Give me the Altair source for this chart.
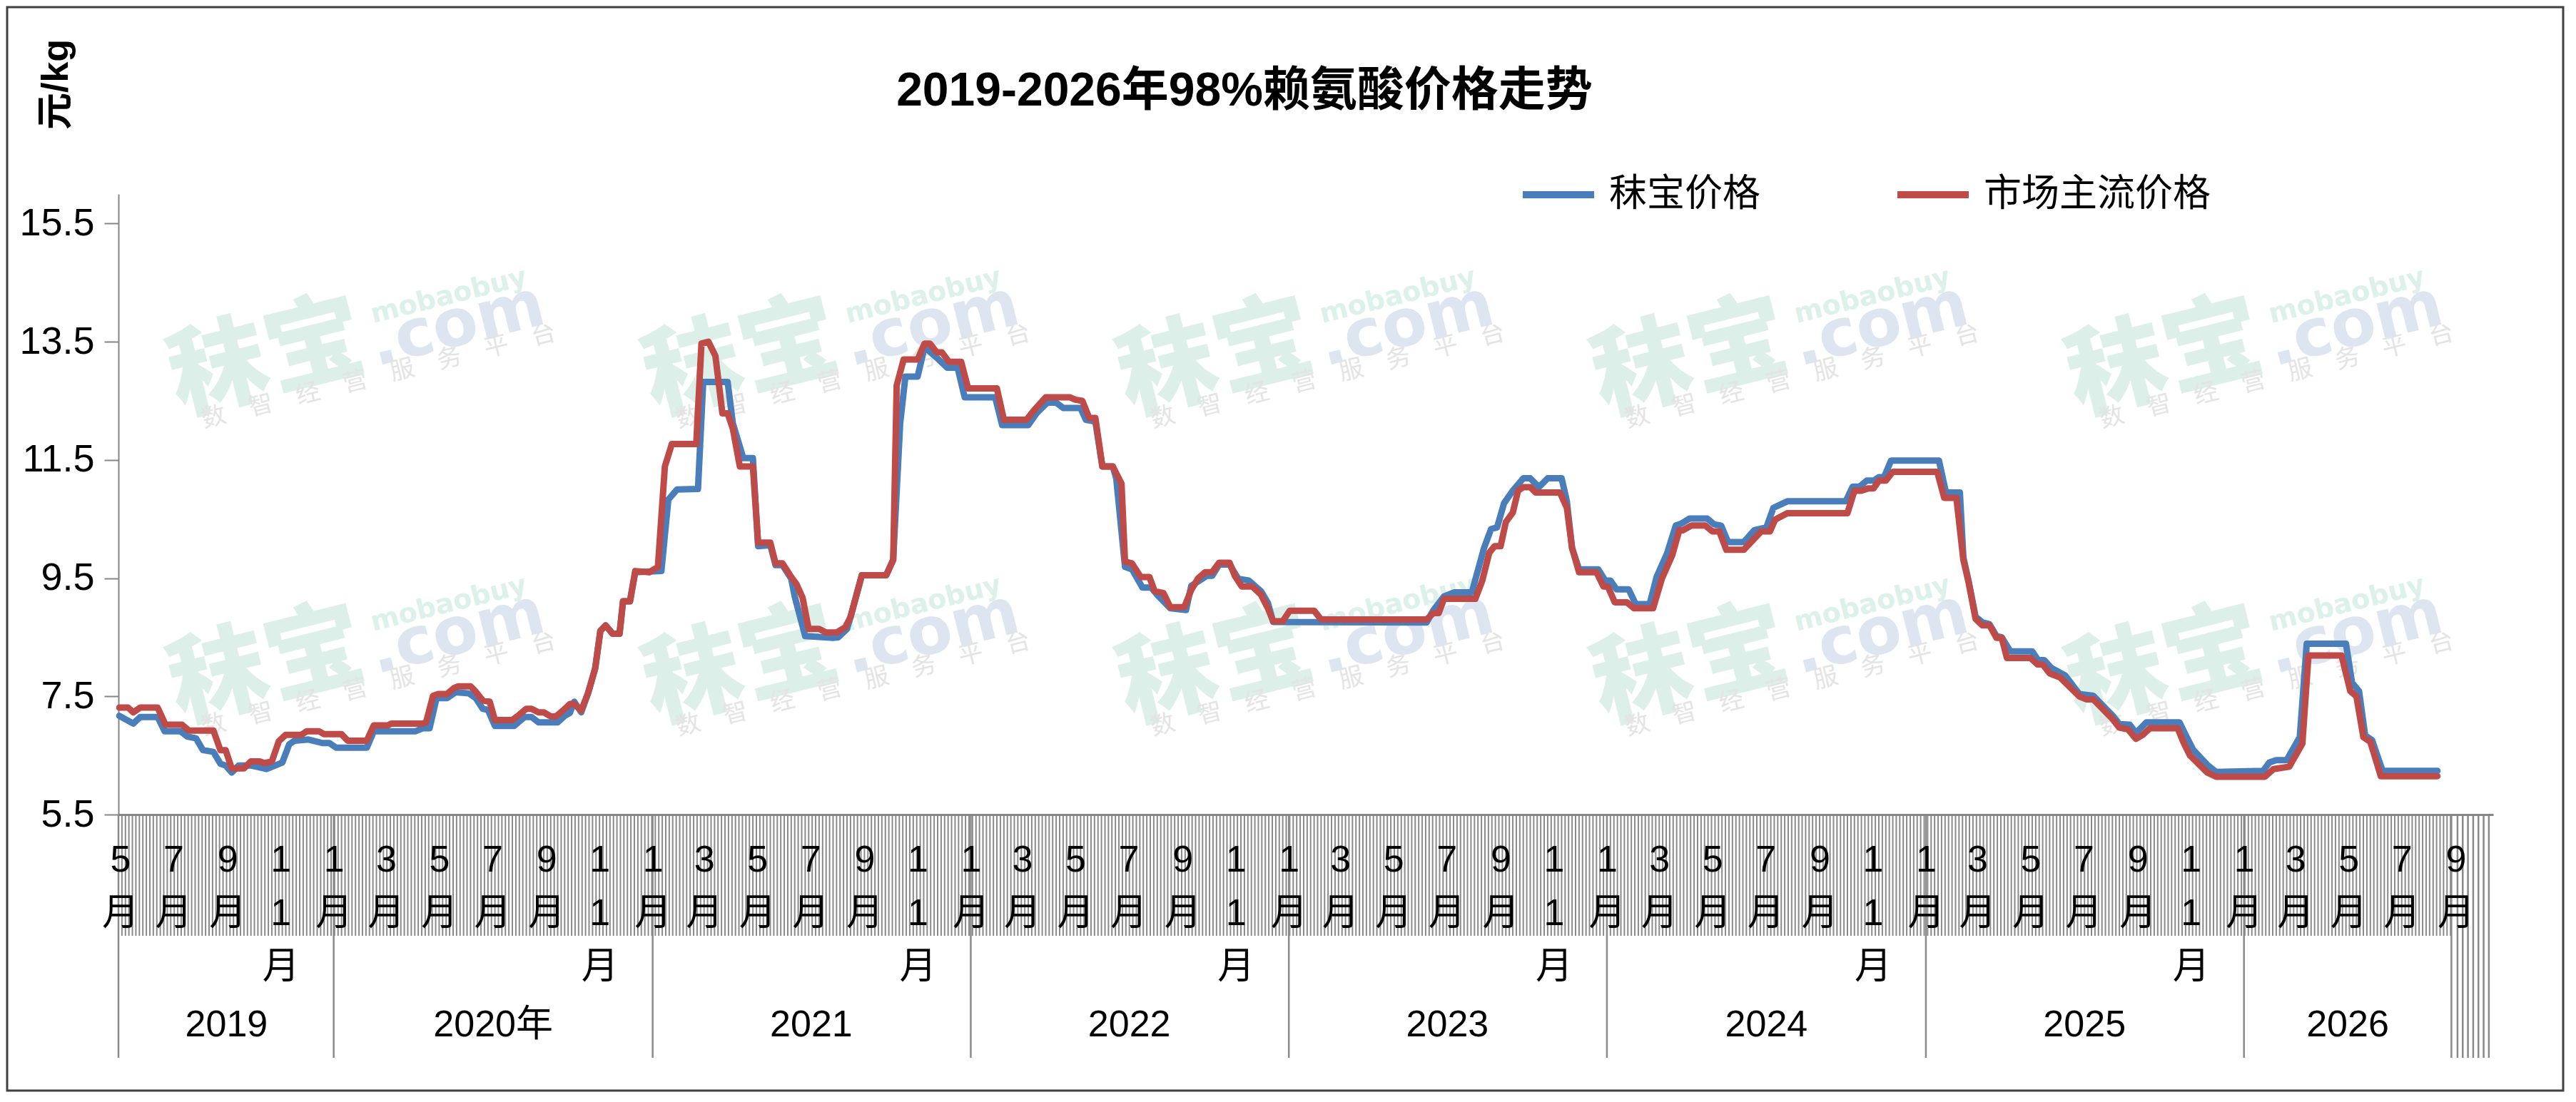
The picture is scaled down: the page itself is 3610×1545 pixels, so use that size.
import altair as alt
import pandas as pd

TITLE = "2019-2026年98%赖氨酸价格走势"
SERIES = ["秣宝价格", "市场主流价格"]
COLORS = ["#4a7ebb", "#be4b48"]
FONT = "'Liberation Sans', 'Noto Sans CJK SC', sans-serif"
CJK = "'Noto Sans CJK SC', sans-serif"

blue_dates = [
    "2019-04-30", "2019-05-16", "2019-05-24", "2019-06-13", "2019-06-21", "2019-07-09", "2019-07-17",
    "2019-07-27", "2019-08-04", "2019-08-16", "2019-08-24", "2019-08-30", "2019-09-06", "2019-09-14",
    "2019-09-28", "2019-10-16", "2019-11-03", "2019-11-11", "2019-11-17", "2019-12-03", "2019-12-19",
    "2019-12-27", "2020-01-04", "2020-02-08", "2020-02-16", "2020-04-04", "2020-04-12", "2020-04-20",
    "2020-04-28", "2020-05-10", "2020-05-20", "2020-06-04", "2020-06-12", "2020-06-20", "2020-06-26",
    "2020-07-04", "2020-07-26", "2020-08-07", "2020-08-15", "2020-08-23", "2020-09-14", "2020-09-22",
    "2020-09-28", "2020-10-03", "2020-10-11", "2020-10-19", "2020-10-27", "2020-11-02", "2020-11-08",
    "2020-11-16", "2020-11-24", "2020-11-28", "2020-12-06", "2020-12-12", "2021-01-11", "2021-01-19",
    "2021-01-29", "2021-02-22", "2021-02-28", "2021-03-28", "2021-04-03", "2021-04-15", "2021-04-26",
    "2021-05-02", "2021-05-16", "2021-05-22", "2021-05-30", "2021-06-09", "2021-06-13", "2021-06-25",
    "2021-07-27", "2021-08-02", "2021-08-12", "2021-08-16", "2021-08-29", "2021-09-26", "2021-10-04",
    "2021-10-12", "2021-10-18", "2021-11-01", "2021-11-09", "2021-11-23", "2021-12-05", "2021-12-17",
    "2021-12-25", "2022-01-29", "2022-02-06", "2022-03-08", "2022-03-18", "2022-03-30", "2022-04-09",
    "2022-04-17", "2022-05-07", "2022-05-13", "2022-05-24", "2022-06-01", "2022-06-13", "2022-06-17",
    "2022-06-27", "2022-07-05", "2022-07-17", "2022-07-27", "2022-08-04", "2022-08-18", "2022-09-05",
    "2022-09-11", "2022-09-29", "2022-10-05", "2022-10-13", "2022-10-25", "2022-11-04", "2022-11-16",
    "2022-11-30", "2022-12-08", "2022-12-14", "2023-06-08", "2023-06-16", "2023-06-28", "2023-07-10",
    "2023-07-30", "2023-08-13", "2023-08-21", "2023-08-28", "2023-09-05", "2023-09-15", "2023-09-27",
    "2023-10-05", "2023-10-15", "2023-10-25", "2023-11-10", "2023-11-16", "2023-11-22", "2023-11-30",
    "2023-12-22", "2023-12-30", "2024-01-05", "2024-01-12", "2024-01-26", "2024-02-03", "2024-02-19",
    "2024-02-27", "2024-03-10", "2024-03-20", "2024-03-26", "2024-04-05", "2024-04-25", "2024-05-03",
    "2024-05-11", "2024-05-19", "2024-06-06", "2024-06-18", "2024-07-02", "2024-07-10", "2024-07-26",
    "2024-10-01", "2024-10-09", "2024-10-17", "2024-10-25", "2024-11-02", "2024-11-08", "2024-11-14",
    "2024-11-22", "2025-01-16", "2025-01-24", "2025-02-09", "2025-02-13", "2025-02-19", "2025-02-27",
    "2025-03-07", "2025-03-15", "2025-03-23", "2025-03-29", "2025-04-08", "2025-05-03", "2025-05-09",
    "2025-05-17", "2025-05-25", "2025-06-10", "2025-06-26", "2025-07-12", "2025-08-03", "2025-08-11",
    "2025-08-23", "2025-08-30", "2025-09-11", "2025-10-19", "2025-10-27", "2025-11-04", "2025-11-20",
    "2025-11-30", "2026-01-23", "2026-01-30", "2026-02-07", "2026-02-19", "2026-03-06", "2026-03-14",
    "2026-04-28", "2026-05-05", "2026-05-13", "2026-05-20", "2026-05-28", "2026-06-09", "2026-08-11",
]
blue_vals = [
    7.17, 7.04, 7.15, 7.15, 6.91, 6.91, 6.82,
    6.79, 6.59, 6.56, 6.36, 6.33, 6.21, 6.33,
    6.33, 6.27, 6.38, 6.69, 6.75, 6.77, 6.71,
    6.71, 6.63, 6.63, 6.91, 6.91, 6.96, 6.96,
    7.47, 7.47, 7.57, 7.55, 7.47, 7.29, 7.27,
    7.00, 7.00, 7.15, 7.15, 7.06, 7.06, 7.17,
    7.22, 7.41, 7.23, 7.56, 7.97, 8.61, 8.70,
    8.56, 8.56, 9.11, 9.11, 9.60, 9.62, 10.83,
    11.00, 11.01, 12.82, 12.82, 12.12, 11.53, 11.53,
    10.04, 10.06, 9.72, 9.72, 9.49, 9.19, 8.52,
    8.49, 8.50, 8.64, 8.84, 9.55, 9.55, 9.81,
    12.12, 12.91, 12.91, 13.41, 13.23, 13.06, 13.06,
    12.56, 12.56, 12.09, 12.09, 12.30, 12.47, 12.47,
    12.38, 12.38, 12.18, 12.15, 11.39, 11.39, 11.18,
    9.69, 9.65, 9.34, 9.34, 9.20, 8.99, 8.96,
    9.37, 9.54, 9.54, 9.73, 9.73, 9.49, 9.46,
    9.28, 9.08, 8.76, 8.75, 8.96, 9.19, 9.26,
    9.26, 10.01, 10.33, 10.36, 10.77, 10.98, 11.19,
    11.19, 11.04, 11.19, 11.19, 10.80, 10.01, 9.65,
    9.65, 9.46, 9.46, 9.31, 9.31, 9.06, 9.06,
    9.52, 9.92, 10.39, 10.42, 10.51, 10.51, 10.41,
    10.39, 10.11, 10.11, 10.31, 10.36, 10.69, 10.80,
    10.80, 11.05, 11.05, 11.15, 11.15, 11.21, 11.21,
    11.49, 11.49, 10.95, 10.95, 9.85, 9.45, 8.85,
    8.75, 8.72, 8.52, 8.50, 8.26, 8.26, 8.13,
    8.11, 7.98, 7.85, 7.54, 7.51, 7.18, 7.03,
    7.02, 6.88, 7.06, 7.06, 6.82, 6.59, 6.34,
    6.22, 6.24, 6.38, 6.42, 6.42, 6.81, 8.39,
    8.39, 7.73, 7.59, 6.84, 6.76, 6.24, 6.24,
]

red_dates = [
    "2019-04-30", "2019-05-10", "2019-05-16", "2019-05-24", "2019-06-13", "2019-06-22", "2019-07-11",
    "2019-07-19", "2019-08-16", "2019-08-24", "2019-08-30", "2019-09-06", "2019-09-20", "2019-09-28",
    "2019-10-08", "2019-10-14", "2019-10-22", "2019-10-30", "2019-11-07", "2019-11-25", "2019-12-01",
    "2019-12-15", "2019-12-21", "2020-01-10", "2020-01-17", "2020-02-08", "2020-02-16", "2020-03-03",
    "2020-03-07", "2020-04-12", "2020-04-16", "2020-04-24", "2020-04-30", "2020-05-10", "2020-05-18",
    "2020-05-23", "2020-06-06", "2020-06-12", "2020-06-20", "2020-06-28", "2020-07-04", "2020-07-24",
    "2020-08-01", "2020-08-09", "2020-08-15", "2020-08-23", "2020-08-29", "2020-09-06", "2020-09-12",
    "2020-09-20", "2020-09-28", "2020-10-03", "2020-10-11", "2020-10-19", "2020-10-27", "2020-11-02",
    "2020-11-08", "2020-11-16", "2020-11-24", "2020-11-28", "2020-12-06", "2020-12-12", "2020-12-28",
    "2021-01-07", "2021-01-15", "2021-01-23", "2021-02-20", "2021-02-26", "2021-03-06", "2021-03-14",
    "2021-03-22", "2021-03-28", "2021-04-03", "2021-04-11", "2021-04-26", "2021-05-02", "2021-05-16",
    "2021-05-22", "2021-05-30", "2021-06-09", "2021-06-15", "2021-06-22", "2021-06-29", "2021-07-11",
    "2021-07-19", "2021-07-31", "2021-08-10", "2021-08-16", "2021-08-29", "2021-09-26", "2021-10-04",
    "2021-10-08", "2021-10-16", "2021-11-01", "2021-11-09", "2021-11-15", "2021-11-23", "2021-11-29",
    "2021-12-07", "2021-12-21", "2021-12-29", "2022-01-31", "2022-02-08", "2022-03-06", "2022-03-14",
    "2022-03-28", "2022-04-25", "2022-05-01", "2022-05-09", "2022-05-17", "2022-05-24", "2022-06-01",
    "2022-06-13", "2022-06-23", "2022-06-27", "2022-07-05", "2022-07-15", "2022-07-25", "2022-07-31",
    "2022-08-10", "2022-08-18", "2022-09-03", "2022-09-11", "2022-09-19", "2022-09-27", "2022-10-05",
    "2022-10-13", "2022-10-25", "2022-10-31", "2022-11-08", "2022-11-20", "2022-11-30", "2022-12-08",
    "2022-12-14", "2022-12-25", "2023-01-02", "2023-01-30", "2023-02-07", "2023-06-08", "2023-06-16",
    "2023-06-22", "2023-06-28", "2023-08-03", "2023-08-11", "2023-08-19", "2023-08-25", "2023-09-01",
    "2023-09-07", "2023-09-15", "2023-09-21", "2023-09-27", "2023-10-05", "2023-10-11", "2023-11-08",
    "2023-11-16", "2023-11-22", "2023-11-30", "2023-12-20", "2023-12-28", "2024-01-02", "2024-01-10",
    "2024-01-24", "2024-02-01", "2024-02-23", "2024-03-04", "2024-03-16", "2024-03-24", "2024-03-28",
    "2024-04-07", "2024-04-23", "2024-05-01", "2024-05-09", "2024-05-17", "2024-06-06", "2024-06-26",
    "2024-07-06", "2024-07-12", "2024-07-26", "2024-10-03", "2024-10-11", "2024-10-19", "2024-10-27",
    "2024-11-02", "2024-11-08", "2024-11-16", "2024-11-24", "2025-01-14", "2025-01-22", "2025-02-05",
    "2025-02-13", "2025-02-19", "2025-02-27", "2025-03-07", "2025-03-15", "2025-03-23", "2025-03-29",
    "2025-04-04", "2025-05-01", "2025-05-09", "2025-05-15", "2025-05-23", "2025-06-04", "2025-06-26",
    "2025-07-04", "2025-07-12", "2025-08-03", "2025-08-11", "2025-08-21", "2025-08-30", "2025-09-07",
    "2025-09-15", "2025-10-17", "2025-10-23", "2025-10-31", "2025-11-20", "2025-11-30", "2026-01-25",
    "2026-02-04", "2026-02-22", "2026-03-09", "2026-03-16", "2026-04-23", "2026-05-03", "2026-05-10",
    "2026-05-18", "2026-05-26", "2026-06-07", "2026-08-11",
]
red_vals = [
    7.31, 7.31, 7.23, 7.31, 7.31, 7.02, 7.02,
    6.92, 6.92, 6.59, 6.59, 6.28, 6.28, 6.40,
    6.40, 6.37, 6.40, 6.74, 6.85, 6.85, 6.91,
    6.91, 6.86, 6.86, 6.75, 6.75, 7.01, 7.01,
    7.04, 7.04, 7.06, 7.51, 7.54, 7.54, 7.64,
    7.67, 7.67, 7.58, 7.43, 7.41, 7.10, 7.10,
    7.19, 7.29, 7.29, 7.23, 7.23, 7.16, 7.16,
    7.26, 7.37, 7.37, 7.26, 7.56, 7.97, 8.61,
    8.70, 8.56, 8.56, 9.11, 9.11, 9.62, 9.60,
    9.69, 11.39, 11.77, 11.77, 13.47, 13.50, 13.26,
    12.29, 12.29, 12.03, 11.39, 11.39, 10.10, 10.10,
    9.75, 9.75, 9.52, 9.40, 9.17, 8.64, 8.64,
    8.58, 8.58, 8.67, 8.84, 9.55, 9.55, 9.81,
    12.76, 13.20, 13.20, 13.47, 13.47, 13.32, 13.32,
    13.16, 13.16, 12.71, 12.71, 12.18, 12.18, 12.33,
    12.56, 12.56, 12.52, 12.50, 12.21, 12.21, 11.39,
    11.39, 11.10, 9.78, 9.75, 9.52, 9.52, 9.28,
    9.25, 9.01, 9.01, 9.30, 9.50, 9.60, 9.60,
    9.76, 9.76, 9.54, 9.36, 9.36, 9.22, 8.99,
    8.77, 8.77, 8.95, 8.95, 8.80, 8.80, 8.91,
    8.91, 9.15, 9.15, 9.46, 9.93, 10.04, 10.04,
    10.45, 10.61, 10.98, 11.04, 11.04, 10.95, 10.95,
    10.69, 10.01, 9.60, 9.60, 9.36, 9.36, 9.09,
    9.09, 8.99, 8.99, 9.49, 9.89, 10.31, 10.31,
    10.39, 10.39, 10.29, 10.29, 9.98, 9.98, 10.29,
    10.29, 10.49, 10.60, 10.60, 10.98, 10.98, 11.02,
    11.02, 11.15, 11.15, 11.30, 11.30, 10.86, 10.86,
    9.81, 9.43, 8.81, 8.70, 8.70, 8.49, 8.49,
    8.15, 8.15, 8.04, 8.04, 7.89, 7.82, 7.50,
    7.45, 7.45, 7.12, 6.97, 6.94, 6.78, 6.85,
    6.96, 6.96, 6.74, 6.50, 6.21, 6.14, 6.14,
    6.27, 6.31, 6.70, 8.19, 8.19, 7.59, 7.50,
    6.81, 6.73, 6.15, 6.15,
]

y_ticks = [5.5, 7.5, 9.5, 11.5, 13.5, 15.5]
month_ticks = [f"{y}-{m:02d}-01" for y in range(2019, 2027) for m in (1, 3, 5, 7, 9, 11)
               if "2019-05-01" <= f"{y}-{m:02d}-01" <= "2026-09-01"]
year_labels = ["2019", "2020年", "2021", "2022", "2023", "2024", "2025", "2026"]
year_centers = ["2019-08-31", "2020-07-02", "2021-07-02", "2022-07-02", "2023-07-02",
                "2024-07-02", "2025-07-02", "2026-04-30"]
year_bounds = ["2019-04-29", "2020-01-01", "2021-01-01", "2022-01-01", "2023-01-01",
               "2024-01-01", "2025-01-01", "2026-01-01", "2026-08-27"]

W, H = 3328, 870


def ms(s):
    return int(pd.Timestamp(s).value // 10**6)


x_scale = alt.Scale(type="utc", domain=[ms("2019-04-29"), ms("2026-10-14")])
x_axis = alt.Axis(
    values=[ms(s) for s in month_ticks],
    labelExpr="utcmonth(datum.value) == 10 ? ['1', '1', '月'] : [toString(utcmonth(datum.value) + 1), '月']",
    labelLineHeight=75, labelFontSize=52, labelFont=FONT, labelColor="#000000",
    labelAngle=0, labelAlign="center", labelBaseline="top", labelPadding=38,
    labelOverlap=False, labelFlush=False, labelBound=False,
    ticks=False, tickSize=0, grid=False, domain=True, domainColor="#868686",
    domainWidth=3, title=None, zindex=1,
)
y_scale = alt.Scale(domain=[5.5, 16.0], nice=False, zero=False)
y_axis = alt.Axis(
    values=y_ticks, format=".1f", labelFontSize=54, labelFont=FONT, labelColor="#000000",
    labelPadding=14, tickSize=20, tickWidth=2, tickColor="#868686",
    domainColor="#868686", domainWidth=2, grid=False,
    title="元/kg", titleAngle=270, titleX=-88, titleY=-154, titleFontSize=52,
    titleFont=FONT, titleFontWeight="bold", titleColor="#000000",
    titleAlign="center", titleBaseline="middle",
)


def X():
    return alt.X("date:T", scale=x_scale, axis=x_axis)


def Y():
    return alt.Y("value:Q", scale=y_scale, axis=y_axis)


blue_df = pd.DataFrame({"date": blue_dates, "value": blue_vals, "series": SERIES[0]})
red_df = pd.DataFrame({"date": red_dates, "value": red_vals, "series": SERIES[1]})

color = alt.Color(
    "series:N",
    scale=alt.Scale(domain=SERIES, range=COLORS),
    legend=alt.Legend(
        title=None, orient="none", legendX=1963, legendY=-54, direction="horizontal",
        symbolType="stroke", symbolStrokeWidth=10, symbolSize=10000,
        labelFontSize=53, labelFont=CJK, labelColor="#000000", labelOffset=16,
        columnPadding=172, labelLimit=800, padding=0,
    ),
)

LW = 9
blue_line = alt.Chart(blue_df).mark_line(strokeWidth=LW, strokeJoin="round", strokeCap="round").encode(
    x=X(), y=Y(), color=color)
red_line = alt.Chart(red_df).mark_line(strokeWidth=LW, strokeJoin="round", strokeCap="round").encode(
    x=X(), y=Y(), color=color)

# category-axis hatch (tick marks of the category axis)
hatch_df = pd.DataFrame({"date": [d.strftime("%Y-%m-%d") for d in
                                  pd.date_range("2019-04-29", "2026-08-27", freq="4D")]})
hatch = alt.Chart(hatch_df).mark_rule(color="#8a8a8a", strokeWidth=2).encode(
    x=X(), y=alt.value(H), y2=alt.value(H + 170))

long_dates = year_bounds + [d.strftime("%Y-%m-%d") for d in
                            pd.date_range("2026-09-03", "2026-10-14", freq="6D")]
long_df = pd.DataFrame({"date": long_dates})
long_rules = alt.Chart(long_df).mark_rule(color="#8a8a8a", strokeWidth=2.5).encode(
    x=X(), y=alt.value(H), y2=alt.value(H + 341))

year_df = pd.DataFrame({"date": year_centers, "label": year_labels})
years = alt.Chart(year_df).mark_text(fontSize=52, font=FONT, color="#000000",
                                     align="center", baseline="middle").encode(
    x=X(), y=alt.value(H + 295), text="label:N")

# watermark (faint logo text, repeated on a grid)
wm_rows = []
base = pd.Timestamp("2019-10-17")
parts = [
    ("logo", "秣宝", 0.0, 0.0),
    ("com", ".com", 217.8, 0.60),
    ("en", "mobaobuy", 208.0, 1.09),
    ("cn", "数　智　经　营　服　务　平　台", 127.7, -0.27),
]
for k in range(5):
    for r in range(2):
        for key, txt, dd, dv in parts:
            d = base + pd.Timedelta(days=k * 544.5 + dd)
            wm_rows.append({"date": d.strftime("%Y-%m-%dT%H:%M:%S"), "value": 13.18 - r * 5.21 + dv,
                            "part": key, "txt": txt})
wm_df = pd.DataFrame(wm_rows)
wm_styles = {
    "logo": dict(fontSize=138, font=CJK, fontWeight=900, color="#dcefe8"),
    "com": dict(fontSize=92, font="'DejaVu Sans', sans-serif", fontWeight="bold", color="#dde6f0"),
    "en": dict(fontSize=38, font="'DejaVu Sans', sans-serif", fontWeight="bold", color="#dcf1e9"),
    "cn": dict(fontSize=34, font=CJK, color="#e4e4e4"),
}
wm_layers = []
for key, style in wm_styles.items():
    wm_layers.append(
        alt.Chart(wm_df[wm_df["part"] == key]).mark_text(
            angle=346, align="center", baseline="middle", **style
        ).encode(x=X(), y=Y(), text="txt:N")
    )

one = pd.DataFrame({"a": [0]})
title = alt.Chart(one).mark_text(text=TITLE, fontSize=66, fontWeight="bold", font=FONT,
                                 color="#000000", align="center", baseline="middle").encode(
    x=alt.value(1578), y=alt.value(-144))
frame = alt.Chart(one).mark_rect(fillOpacity=0, stroke="#404040", strokeWidth=3).encode(
    x=alt.value(-156), x2=alt.value(W + 98), y=alt.value(-262), y2=alt.value(H + 387))

chart = alt.layer(
    frame, *wm_layers, hatch, long_rules, years, blue_line, red_line, title
).properties(
    width=W, height=H,
    padding={"left": 158, "top": 264, "right": 100, "bottom": 390},
    autosize=alt.AutoSizeParams(type="none"),
).configure(
    background="#ffffff",
    view=alt.ViewConfig(stroke="transparent", strokeWidth=0),
)

chart.save("out.html", embed_options={"renderer": "svg", "actions": False})
